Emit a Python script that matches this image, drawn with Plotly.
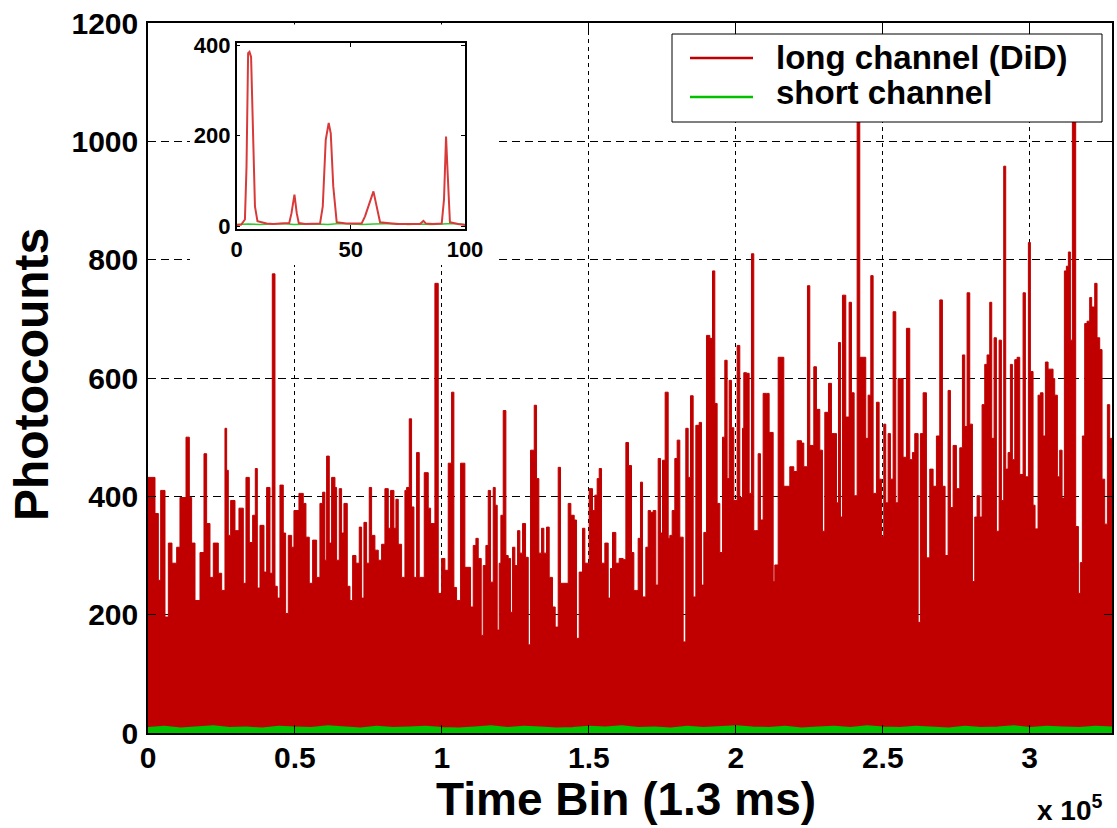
import numpy as np
import plotly.graph_objects as go

# ---------------- data ----------------
# main panel: time bin in thousands of bins, photocounts of the long channel
time_bin_k = [
    0, 2.38, 3.51, 4.31, 5.78, 6.92, 8.16, 9.75, 10.88, 12.93, 14.06, 14.85, 15.99, 17.69,
    19.05, 19.95, 21.09, 22.22, 23.92, 25.06, 26.19, 26.76, 27.32, 28.12, 29.59, 30.95,
    32.43, 33.33, 34.47, 35.60, 36.51, 37.19, 38.10, 39.46, 40.36, 41.50, 42.29, 43.20,
    43.99, 44.90, 46.03, 46.83, 47.73, 48.87, 49.66, 51.36, 52.83, 53.74, 54.87, 56.01,
    57.37, 58.50, 59.41, 60.20, 60.77, 61.68, 62.47, 63.61, 64.17, 65.08, 65.87, 66.67,
    67.80, 68.71, 69.62, 70.75, 71.88, 72.68, 73.47, 74.38, 75.28, 76.08, 77.21, 78.35,
    79.48, 80.61, 81.75, 82.54, 83.67, 84.35, 85.15, 86.28, 87.42, 87.98, 88.89, 89.68,
    90.48, 91.38, 92.29, 93.99, 95.35, 96.15, 97.62, 98.75, 99.89, 101.02, 102.15,
    103.29, 104.08, 104.99, 106.35, 107.82,
    109.75, 110.66, 111.57, 112.36, 113.38, 114.06, 114.97, 115.76, 116.55, 117.46,
    118.14, 118.82, 119.50, 120.07, 120.86, 121.77, 122.56, 123.36, 124.04, 124.83,
    125.74, 126.53, 127.44, 128.46, 129.37, 130.16, 131.41, 132.20, 132.99, 133.90,
    134.69, 135.60, 136.51, 137.64, 138.55, 139.57, 140.36, 141.50, 142.97, 143.88,
    145.01, 145.81, 146.71, 147.85, 148.64, 150.11, 151.25, 152.04, 152.83, 153.52,
    154.31, 155.44, 156.58, 157.37, 158.05, 159.18, 160.32, 161.68, 162.59, 163.49,
    164.51, 165.31, 166.21, 166.78, 167.57, 168.26, 169.39, 170.18, 170.98, 171.88,
    172.79, 173.58, 174.38, 175.06, 175.96, 176.99, 177.55, 178.35, 179.25, 180.05,
    180.95, 182.09, 182.99, 183.79, 184.58, 185.49, 186.40, 187.53, 188.32, 189.12,
    190.02, 191.16, 192.07, 192.86, 193.65, 194.56, 195.47, 196.26, 197.05, 197.73,
    198.53, 199.32, 200.45, 201.36, 202.27, 202.72, 203.63, 204.54, 205.33, 206.12,
    206.80, 207.60, 208.39, 209.30, 210.43, 211.34,
    212.71, 213.27, 214.41, 216.33, 218.37, 219.73, 220.87, 222.34, 223.14, 224.38,
    225.18, 226.54, 227.44, 228.58, 229.48, 230.28, 231.53, 232.55, 233.68, 234.25,
    234.93, 235.61, 236.29, 237.42, 238.55, 239.35, 240.26, 241.28, 242.18, 243.32,
    244.22, 245.02, 245.93, 246.72, 247.85, 248.76, 249.55, 250.35, 251.03, 251.82,
    252.61, 253.52, 254.43, 255.22, 256.02, 256.92, 258.06, 259.19, 260.10, 260.89,
    262.03, 262.82, 263.73, 264.86, 266.00, 267.13, 268.26, 269.40, 270.30, 271.21,
    272.23, 273.02, 273.93, 275.06, 276.20, 277.11, 277.90, 278.69, 279.60, 280.51,
    281.30, 282.09, 283.00, 283.79, 284.70, 285.49, 286.40, 287.08, 287.88, 288.67,
    289.58, 290.37, 291.16, 291.84, 292.64, 293.43, 294.11, 294.91, 295.70, 296.61,
    297.74, 298.53, 299.55, 300.23, 301.14, 301.82, 302.84, 303.64, 304.54, 305.34,
    306.25, 307.04, 307.94, 308.51, 309.42, 310.21, 311.01, 311.80, 312.48, 313.16,
    313.84, 314.52, 315.65, 316.56, 317.24, 317.92, 318.71, 319.51, 320.41, 321.09,
    322.12, 322.91, 323.82, 324.61, 325.52, 326.43, 327.22, 328.00,
]
long_counts = [
    432, 371, 258, 410, 196, 321, 287, 314, 398, 500, 398, 321, 224, 305,
    472, 354, 263, 321, 270, 241, 515, 444, 334, 393, 342, 380,
    253, 432, 322, 368, 447, 245, 351, 272, 415, 270, 776, 248,
    228, 419, 338, 202, 334, 314, 376, 405, 388, 331, 253, 326,
    263, 388, 407, 292, 468, 321, 432, 415, 292, 413, 338, 388,
    248, 224, 300, 287, 348, 228, 356, 287, 415, 334, 309, 292,
    319, 413, 346, 410, 346, 395, 319, 263, 410, 415, 531, 382,
    263, 474, 263, 440, 380, 354, 760, 236, 295, 275, 456,
    576, 246, 224, 456, 280,
    213, 317, 329, 295, 165, 283, 317, 410, 255, 415,
    385, 174, 287, 368, 545, 300, 295, 204, 314, 283,
    342, 304, 354, 297, 149, 478, 554, 430, 304, 346,
    304, 348, 263, 213, 179, 449, 253, 253, 388, 368,
    360, 160, 272, 346, 287, 413, 376, 402, 430, 447,
    287, 321, 228, 278, 339, 287, 295, 293, 491, 452,
    305, 241, 241, 329, 424, 230, 314, 376, 373, 376,
    250, 464, 338, 461, 576, 329, 334, 376, 464, 495,
    331, 154, 515, 432, 570, 230, 520, 525, 250, 339,
    672, 667, 781, 557, 388, 305, 500, 630, 430, 596,
    516, 393, 655, 398, 515, 609, 608, 405, 810, 342,
    342, 472, 360, 574, 574, 508,
    256, 284, 635, 417, 450, 442, 494, 490, 450, 756,
    486, 619, 547, 478, 341, 542, 591, 506, 506, 389,
    660, 365, 740, 534, 728, 575, 401, 1100, 635, 635,
    498, 571, 773, 405, 559, 429, 332, 522, 389, 506,
    429, 712, 389, 599, 599, 466, 684, 462, 474, 506,
    187, 506, 575, 296, 446, 417, 502, 732, 417, 300,
    579, 381, 486, 413, 482, 639, 518, 744, 522, 256,
    365, 401, 365, 555, 623, 639, 728, 498, 668, 341,
    664, 393, 958, 446, 474, 623, 462, 631, 635, 437,
    744, 433, 829, 611, 385, 345, 571, 575, 502, 627,
    615, 615, 599, 571, 433, 478, 397, 781, 789, 813,
    664, 1040, 349, 236, 288, 502, 692, 696, 736, 720,
    760, 668, 648, 429, 353, 555, 498, 498,
]
short_counts = [
    8, 10, 7, 9, 11, 8, 9, 7, 10, 9, 8, 11, 9, 7, 10, 8, 9, 10, 8, 7,
    9, 11, 8, 10, 9, 7, 8, 10, 9, 11, 8, 9, 7, 10, 8, 9, 11, 9, 8, 10,
    7, 9, 10, 8, 11, 9, 8, 10, 9, 7, 10, 8, 9, 11, 8, 10, 9, 8, 10, 9,
]

# inset: first 100 bins
inset_x = [0, 2, 3.6, 4.3, 5.0, 5.6, 6.3, 7.1, 8.0, 9.1, 10.9, 13.1, 16, 20.4, 23.0, 24.0,
           25.3, 26.3, 27.2, 30, 36.5, 37.7, 39.0, 40.3, 41.2, 42.3, 43.8, 48, 54.7,
           56.2, 58.4, 59.9, 61.3, 62.8, 70, 80.3, 81.8, 82.9, 86, 89.8, 90.8, 91.7,
           92.4, 93.4, 97, 100]
inset_long = [3, 4, 15, 132, 382, 385, 374, 205, 44, 11, 8, 6, 5, 6, 7, 29,
              70, 29, 7, 5, 6, 44, 191, 228, 205, 88, 9, 6, 6,
              22, 55, 77, 44, 9, 5, 5, 12, 6, 5, 6, 59, 198,
              117, 9, 5, 3]
inset_short_x = [0, 5, 10, 15, 20, 25, 30, 35, 40, 45, 50, 55, 60, 65, 70, 75, 80, 85, 90, 95, 100]
inset_short = [4, 5, 4, 5, 6, 4, 5, 5, 4, 6, 5, 4, 5, 5, 6, 4, 5, 4, 5, 6, 4]

x_tick_vals = [0, 50000, 100000, 150000, 200000, 250000, 300000]
x_tick_text = ["0", "0.5", "1", "1.5", "2", "2.5", "3"]
y_tick_vals = [0, 200, 400, 600, 800, 1000, 1200]
inset_x_ticks = [0, 50, 100]
inset_y_ticks = [0, 200, 400]

series_names = ["long channel (DiD)", "short channel"]
RED = "#c00000"
GREEN = "#00c000"

# ---------------- layout helpers ----------------
W, H = 1117, 828
ML, MR, MT, MB = 148, 5, 23, 95
PW, PH = W - ML - MR, H - MT - MB


def px_x(x):
    return (x - ML) / PW


def px_y(y):
    return (H - MB - y) / PH


FONT = "Liberation Sans, Arial, Helvetica, sans-serif"

time_bins = [k * 1000 for k in time_bin_k]
short_bins = list(np.linspace(0, 328000, len(short_counts)))

fig = go.Figure()

fig.add_trace(go.Scatter(
    x=time_bins, y=long_counts, mode="lines", line=dict(color=RED, width=1, shape="hv"),
    fill="tozeroy", fillcolor=RED, name=series_names[0], showlegend=False,
    xaxis="x", yaxis="y"))
fig.add_trace(go.Scatter(
    x=short_bins, y=short_counts, mode="lines", line=dict(color=GREEN, width=2.5),
    fill="tozeroy", fillcolor=GREEN, name=series_names[1], showlegend=False,
    xaxis="x", yaxis="y"))

# blank subplot that whitens the region behind the inset (its labels included)
fig.add_trace(go.Scatter(x=[0.5], y=[0.5], mode="markers", marker=dict(opacity=0),
                         showlegend=False, hoverinfo="skip", xaxis="x2", yaxis="y2"))

# inset
fig.add_trace(go.Scatter(x=inset_short_x, y=inset_short, mode="lines",
                         line=dict(color="#30c830", width=1.5), showlegend=False,
                         xaxis="x3", yaxis="y3"))
fig.add_trace(go.Scatter(x=inset_x, y=inset_long, mode="lines",
                         line=dict(color="#d83a3a", width=2), showlegend=False,
                         xaxis="x3", yaxis="y3"))

axis_common = dict(showline=True, linecolor="black", linewidth=1.5, mirror="ticks",
                   ticks="inside", tickcolor="black", zeroline=False, automargin=False)

fig.update_layout(
    width=W, height=H, autosize=False,
    margin=dict(l=ML, r=MR, t=MT, b=MB, autoexpand=False),
    paper_bgcolor="white", plot_bgcolor="white",
    font=dict(family=FONT, color="black", weight="bold"),
    showlegend=False,
    xaxis=dict(**axis_common, range=[0, 328000], tickvals=x_tick_vals, ticktext=x_tick_text,
               ticklen=8, tickwidth=1, tickfont=dict(size=30, weight="bold"),
               ticklabelstandoff=-3,
               showgrid=True, gridcolor="black", gridwidth=1, griddash="4px,4px",
               domain=[0, 1]),
    yaxis=dict(**axis_common, range=[0, 1200], tickvals=y_tick_vals,
               ticklen=8, tickwidth=1, tickfont=dict(size=30, weight="bold"),
               ticklabelstandoff=2,
               showgrid=True, gridcolor="black", gridwidth=1, griddash="8px,5px",
               domain=[0, 1]),
    xaxis2=dict(visible=False, range=[0, 1], domain=[px_x(190), px_x(498)],
                fixedrange=True, automargin=False),
    yaxis2=dict(visible=False, range=[0, 1], domain=[px_y(265), px_y(24.5)],
                fixedrange=True, automargin=False),
    xaxis3=dict(**axis_common, range=[0, 100], tickvals=inset_x_ticks, ticklen=4,
                tickfont=dict(size=22, weight="bold"), ticklabelstandoff=0,
                showgrid=False, domain=[px_x(236.7), px_x(465)], anchor="y3"),
    yaxis3=dict(**axis_common, range=[-6, 404], tickvals=inset_y_ticks, ticklen=4,
                tickfont=dict(size=22, weight="bold"), ticklabelstandoff=0,
                showgrid=False, domain=[px_y(229), px_y(43.3)], anchor="x3"),
)

# hand-drawn legend box (MATLAB style)
shapes = [
    dict(type="rect", xref="paper", yref="paper", x0=px_x(672), x1=px_x(1102),
         y0=px_y(122), y1=px_y(34), fillcolor="white", line=dict(color="black", width=1),
         layer="above"),
    dict(type="line", xref="paper", yref="paper", x0=px_x(690), x1=px_x(753),
         y0=px_y(58), y1=px_y(58), line=dict(color=RED, width=2.5), layer="above"),
    dict(type="line", xref="paper", yref="paper", x0=px_x(690), x1=px_x(753),
         y0=px_y(97), y1=px_y(97), line=dict(color=GREEN, width=2.5), layer="above"),
]
fig.update_layout(shapes=shapes)

annotations = [
    dict(text=series_names[0], x=px_x(774), y=px_y(57), xanchor="left", yanchor="middle",
         font=dict(size=33, weight="bold")),
    dict(text=series_names[1], x=px_x(774), y=px_y(93), xanchor="left", yanchor="middle",
         font=dict(size=33, weight="bold")),
    dict(text="Time Bin (1.3 ms)", x=px_x(626), y=px_y(799), xanchor="center",
         yanchor="middle", font=dict(size=46, weight="bold")),
    dict(text="Photocounts", x=px_x(31), y=px_y(375), xanchor="center", yanchor="middle",
         textangle=-90, font=dict(size=48, weight="bold")),
    dict(text="x 10<sup>5</sup>", x=px_x(1070), y=px_y(808), xanchor="center",
         yanchor="middle", font=dict(size=28, weight="bold")),
]
for a in annotations:
    a.update(xref="paper", yref="paper", showarrow=False)
fig.update_layout(annotations=annotations)

fig.write_html("out.html")
